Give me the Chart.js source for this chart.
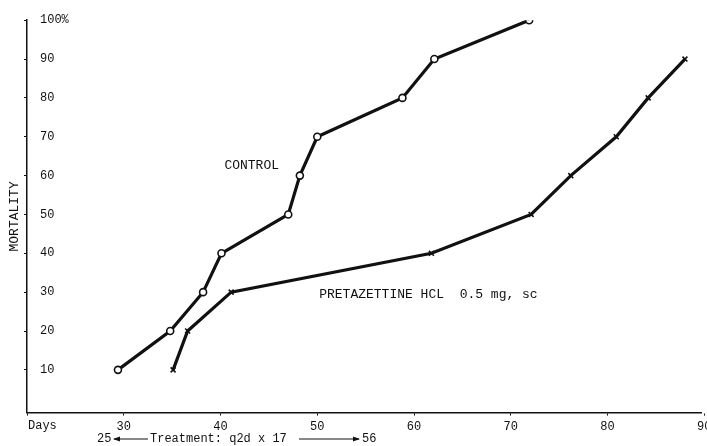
<!DOCTYPE html>
<html>
<head>
<meta charset="utf-8">
<script src="https://cdn.jsdelivr.net/npm/chart.js@4.4.1/dist/chart.umd.min.js"></script>
<style>
  html, body { margin: 0; padding: 0; background: #fff; }
  #wrap { width: 707px; height: 446px; }
</style>
</head>
<body>
<div id="wrap"><canvas id="mortalityChart"></canvas></div>
<script>
// dados
const controlDays = [29.4, 34.8, 38.2, 40.1, 47.0, 48.2, 50.0, 58.8, 62.1, 71.9];
const controlMortality = [10, 20, 30, 40, 50, 60, 70, 80, 90, 100];
const pretazettineDays = [35.1, 36.6, 41.1, 61.8, 72.1, 76.2, 80.9, 84.2, 88.0];
const pretazettineMortality = [10, 20, 30, 40, 50, 60, 70, 80, 90];
const dayTicks = [20, 30, 40, 50, 60, 70, 80, 90];
const mortalityTicks = [10, 20, 30, 40, 50, 60, 70, 80, 90, 100];

const FONT = '"Liberation Mono", "DejaVu Sans Mono", monospace';

function toPoints(xs, ys) {
    return xs.map((x, i) => ({ x: x, y: ys[i] }));
}

// textos e a linha do tratamento
const annotationsPlugin = {
    id: 'annotations',
    afterDraw(chart) {
        const ctx = chart.ctx;
        const xs = chart.scales.x;
        const ys = chart.scales.y;
        ctx.save();
        ctx.fillStyle = '#111';
        ctx.strokeStyle = '#111';
        ctx.font = '13px ' + FONT;
        ctx.textBaseline = 'middle';
        ctx.textAlign = 'left';
        ctx.fillText('CONTROL', xs.getPixelForValue(40.4), ys.getPixelForValue(62.5));
        ctx.fillText('PRETAZETTINE HCL  0.5 mg, sc', xs.getPixelForValue(50.2), ys.getPixelForValue(29.5));

        ctx.font = '12px ' + FONT;
        ctx.fillText('Days', chart.chartArea.left + 1, 426);

        // linha do tratamento
        const y = 439;
        ctx.fillText('25', 97, y);
        ctx.fillText('Treatment: q2d x 17', 150, y);
        ctx.fillText('56', 362, y);
        ctx.lineWidth = 1;
        ctx.beginPath();
        ctx.moveTo(114, y); ctx.lineTo(148, y);
        ctx.moveTo(299, y); ctx.lineTo(359, y);
        ctx.stroke();
        ctx.beginPath();
        ctx.moveTo(113, y); ctx.lineTo(120, y - 2.5); ctx.lineTo(120, y + 2.5); ctx.closePath();
        ctx.moveTo(360, y); ctx.lineTo(353, y - 2.5); ctx.lineTo(353, y + 2.5); ctx.closePath();
        ctx.fill();
        ctx.restore();
    }
};

document.addEventListener('DOMContentLoaded', function() {
    const ctx = document.getElementById('mortalityChart').getContext('2d');
    new Chart(ctx, {
        type: 'line',
        data: {
            datasets: [
                {
                    label: 'CONTROL',
                    data: toPoints(controlDays, controlMortality),
                    borderColor: '#111',
                    borderWidth: 3.2,
                    pointStyle: 'circle',
                    pointRadius: 3.5,
                    pointBorderWidth: 1.6,
                    pointBackgroundColor: '#fff',
                    pointBorderColor: '#111',
                    tension: 0
                },
                {
                    label: 'PRETAZETTINE HCL 0.5 mg, sc',
                    data: toPoints(pretazettineDays, pretazettineMortality),
                    borderColor: '#111',
                    borderWidth: 3.2,
                    pointStyle: 'crossRot',
                    pointRadius: 3.5,
                    pointBorderWidth: 1.6,
                    pointBorderColor: '#111',
                    tension: 0
                }
            ]
        },
        options: {
            responsive: true,
            maintainAspectRatio: false,
            animation: false,
            layout: { padding: { top: 19, right: 0, bottom: 8, left: 3 } },
            plugins: {
                legend: { display: false },
                tooltip: { enabled: false }
            },
            scales: {
                x: {
                    type: 'linear',
                    min: 20,
                    max: 89.7,
                    afterBuildTicks: (scale) => { scale.ticks = dayTicks.map(v => ({ value: v })); },
                    afterFit: (scale) => { scale.paddingRight = 0; scale.paddingLeft = 0; },
                    border: { color: '#111', width: 1.5 },
                    grid: { drawOnChartArea: false, drawTicks: true, tickLength: 3, color: '#111' },
                    ticks: {
                        color: '#111',
                        padding: 4,
                        maxRotation: 0,
                        font: { family: FONT, size: 12 },
                        callback: (v) => (v === 20 ? '' : v)
                    }
                },
                y: {
                    type: 'linear',
                    min: -1,
                    max: 100,
                    afterBuildTicks: (scale) => { scale.ticks = mortalityTicks.map(v => ({ value: v })); },
                    afterFit: (scale) => { scale.width = 24; },
                    border: { color: '#111', width: 1.5 },
                    grid: { drawOnChartArea: false, drawTicks: true, tickLength: 3, color: '#111' },
                    title: {
                        display: true,
                        text: 'MORTALITY',
                        color: '#111',
                        padding: { top: 4, bottom: 4 },
                        font: { family: FONT, size: 13 }
                    },
                    ticks: {
                        mirror: true,
                        padding: 13,
                        color: '#111',
                        font: { family: FONT, size: 12 },
                        callback: (v) => (v === 100 ? '100%' : v)
                    }
                }
            }
        },
        plugins: [annotationsPlugin]
    });
});
</script>
</body>
</html>
